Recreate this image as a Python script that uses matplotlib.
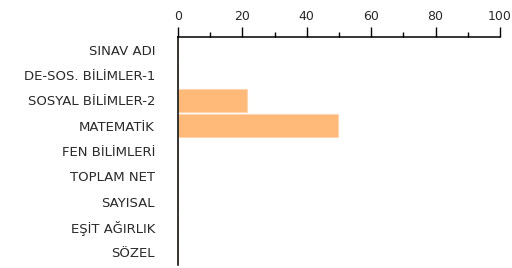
import matplotlib
matplotlib.use("Agg")
import matplotlib.pyplot as plt

categories = ["SINAV ADI", "DE-SOS. BİLİMLER-1", "SOSYAL BİLİMLER-2", "MATEMATİK",
              "FEN BİLİMLERİ", "TOPLAM NET", "SAYISAL", "EŞİT AĞIRLIK", "SÖZEL"]
values = [0, 0, 21.3, 49.7, 0, 0, 0, 0, 0]
xticks = [0, 20, 40, 60, 80, 100]

fig = plt.figure(figsize=(5.12, 2.68), dpi=100)
ax = fig.add_axes([178/512, 3/268, 322/512, 228/268])

ypos = list(range(len(categories)))
ax.barh(ypos, values, height=0.9, color="#ffb978", edgecolor="#ffd6b0", linewidth=0.8)

ax.set_xlim(0, 100)
ax.set_ylim(len(categories) - 0.5, -0.5)
ax.set_yticks(ypos)
ax.set_yticklabels(categories, fontsize=9.5, color="#2a2a2a")
ax.set_xticks(xticks)
ax.set_xticks([10, 30, 50, 70, 90], minor=True)
ax.xaxis.tick_top()
ax.tick_params(axis="x", which="major", length=7.2, width=1, labelsize=9,
               labelcolor="#2a2a2a", pad=3)
ax.tick_params(axis="x", which="minor", length=3.6, width=1)
ax.tick_params(axis="y", length=0, pad=16.5)
for s in ["right", "bottom"]:
    ax.spines[s].set_visible(False)
ax.spines["top"].set_linewidth(1.1)
ax.spines["left"].set_linewidth(1.1)

fig.savefig("out.png", dpi=100)
